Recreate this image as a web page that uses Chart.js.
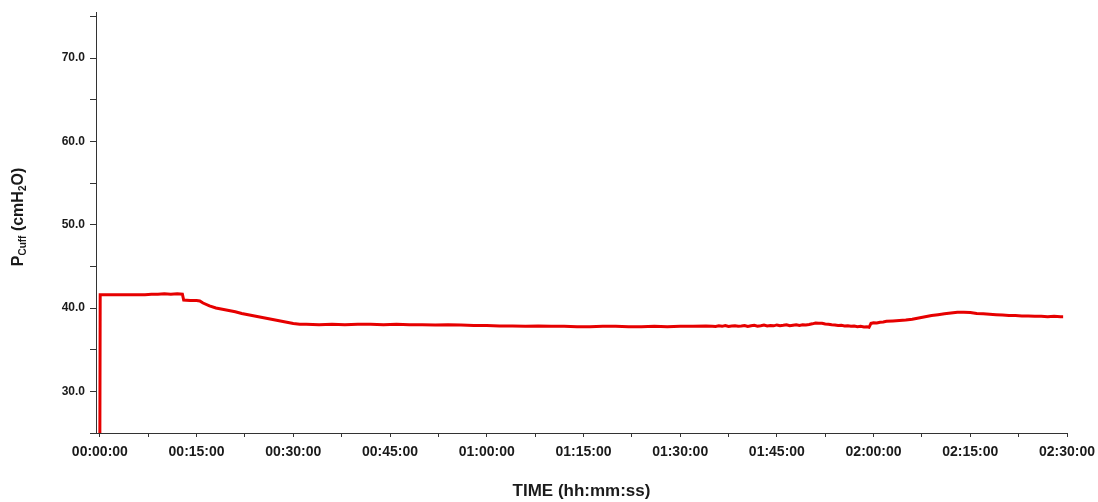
<!DOCTYPE html>
<html>
<head>
<meta charset="utf-8">
<script src="https://cdn.jsdelivr.net/npm/chart.js@4/dist/chart.umd.min.js"></script>
<style>
    body { margin: 0; background: #fff; }
    #wrap { width: 1098px; height: 502px; }
</style>
</head>
<body>
<div id="wrap"><canvas id="cuffChart"></canvas></div>
<script>
// time in minutes from start
const timeMin = [
    0, 0.05, 1, 2, 3, 4, 5, 6, 7, 8, 9, 10, 11, 12, 12.8, 13, 14, 15, 15.5,
    16, 17, 18, 19, 20, 21, 22, 23, 24, 25, 26, 27, 28, 29, 30, 31, 32,
    34, 36, 38, 40, 42, 44, 46, 48, 50, 52, 54, 56, 58, 60, 62, 64, 66, 68,
    70, 72, 74, 76, 78, 80, 82, 84, 86, 88, 90, 92, 94,
    95, 95.5, 96, 96.5, 97, 97.5, 98, 98.5, 99, 99.5, 100, 100.5, 101, 101.5,
    102, 102.5, 103, 103.5, 104, 104.5, 105, 105.5, 106, 106.5, 107, 107.5,
    108, 108.5, 109, 109.5, 110, 110.5, 111, 111.5, 112, 112.5, 113, 113.5,
    114, 114.5, 115, 115.5, 116, 116.5, 117, 117.5, 118, 118.5, 119, 119.3,
    119.6, 120, 120.5, 121, 121.5, 122,
    123, 124, 125, 126, 127, 128, 129, 130, 131, 132, 133, 134, 135, 136,
    137, 138, 139, 140, 141, 142, 143, 144, 145, 146, 147, 148, 149, 149.4
];

// cuff pressure, cmH2O
const pCuff = [
    25.0, 41.6, 41.6, 41.6, 41.6, 41.6, 41.6, 41.6, 41.6, 41.65, 41.65, 41.7, 41.65, 41.7, 41.65, 40.95, 40.9, 40.9, 40.85,
    40.6, 40.25, 40.0, 39.85, 39.7, 39.55, 39.35, 39.2, 39.05, 38.9, 38.75, 38.6, 38.45, 38.3, 38.15, 38.05, 38.05,
    38.0, 38.05, 38.0, 38.05, 38.05, 38.0, 38.05, 38.0, 38.0, 37.95, 38.0, 37.95, 37.9, 37.9, 37.85, 37.85, 37.8, 37.85,
    37.8, 37.8, 37.75, 37.75, 37.8, 37.8, 37.75, 37.75, 37.8, 37.75, 37.8, 37.8, 37.85,
    37.82, 37.78, 37.86, 37.8, 37.9, 37.79, 37.84, 37.88, 37.8, 37.83, 37.9, 37.78, 37.86, 37.92,
    37.82, 37.88, 37.95, 37.84, 37.9, 37.86, 37.97, 37.88, 37.92, 37.99, 37.87, 37.94,
    38.0, 37.9, 37.98, 37.95, 38.02, 38.1, 38.2, 38.16, 38.18, 38.08, 38.05, 37.98,
    37.97, 37.9, 37.92, 37.84, 37.88, 37.8, 37.83, 37.76, 37.8, 37.72, 37.74, 37.68,
    38.15, 38.22, 38.2, 38.3, 38.32, 38.4,
    38.45, 38.5, 38.55, 38.65, 38.8, 38.95, 39.1, 39.2, 39.3, 39.4, 39.5, 39.5, 39.45, 39.35,
    39.3, 39.25, 39.2, 39.15, 39.1, 39.1, 39.05, 39.05, 39.0, 39.0, 38.95, 39.0, 38.95, 38.95
];

const xTicks = [0, 7.5, 15, 22.5, 30, 37.5, 45, 52.5, 60, 67.5, 75, 82.5, 90, 97.5, 105, 112.5, 120, 127.5, 135, 142.5, 150];
const xTickLabels = ['00:00:00', '', '00:15:00', '', '00:30:00', '', '00:45:00', '', '01:00:00', '', '01:15:00', '',
    '01:30:00', '', '01:45:00', '', '02:00:00', '', '02:15:00', '', '02:30:00'];
const yTicks = [25, 30, 35, 40, 45, 50, 55, 60, 65, 70, 75];
const yTickLabels = ['', '30.0', '', '40.0', '', '50.0', '', '60.0', '', '70.0', ''];

const textColor = '#1a1a1a';
const axisColor = '#333';

// y title with subscripts: P_Cuff (cmH_2O)
const yTitlePlugin = {
    id: 'yTitle',
    afterDraw: function(chart) {
        const ctx = chart.ctx;
        const parts = [
            { t: 'P', size: 16, dy: 0 },
            { t: 'Cuff', size: 10, dy: 3 },
            { t: ' (cmH', size: 16, dy: 0 },
            { t: '2', size: 10, dy: 3 },
            { t: 'O)', size: 16, dy: 0 }
        ];
        let total = 0;
        parts.forEach(function(p) {
            ctx.font = 'bold ' + p.size + 'px "Liberation Sans", Arial, sans-serif';
            p.w = ctx.measureText(p.t).width;
            total += p.w;
        });
        ctx.save();
        ctx.translate(23, 217);
        ctx.rotate(-Math.PI / 2);
        ctx.fillStyle = textColor;
        ctx.textBaseline = 'alphabetic';
        ctx.textAlign = 'left';
        let x = -total / 2;
        parts.forEach(function(p) {
            ctx.font = 'bold ' + p.size + 'px "Liberation Sans", Arial, sans-serif';
            ctx.fillText(p.t, x, p.dy);
            x += p.w;
        });
        ctx.restore();
    }
};

const points = timeMin.map(function(t, i) {
    return { x: t, y: pCuff[i] };
});

const ctx = document.getElementById('cuffChart').getContext('2d');
const cuffChart = new Chart(ctx, {
    type: 'line',
    data: {
        datasets: [{
            label: 'Pcuff',
            data: points,
            borderColor: '#e60000',
            borderWidth: 3,
            pointRadius: 0,
            tension: 0,
            fill: false
        }]
    },
    options: {
        responsive: true,
        maintainAspectRatio: false,
        animation: false,
        layout: { padding: { left: 0, right: 31, top: 10, bottom: 0 } },
        plugins: {
            legend: { display: false },
            tooltip: { enabled: false }
        },
        scales: {
            x: {
                type: 'linear',
                min: -0.6,
                max: 150,
                afterBuildTicks: function(scale) {
                    scale.ticks = xTicks.map(function(v) { return { value: v }; });
                },
                afterFit: function(scale) {
                    scale.height = 69;
                    scale.paddingLeft = 0;
                    scale.paddingRight = 0;
                },
                grid: { drawOnChartArea: false, tickLength: 4, tickColor: axisColor },
                border: { display: true, color: axisColor, width: 1 },
                ticks: {
                    autoSkip: false,
                    maxRotation: 0,
                    padding: 7,
                    color: textColor,
                    font: { family: '"Liberation Sans", Arial, sans-serif', size: 14, weight: 'bold' },
                    callback: function(value, index) { return xTickLabels[index]; }
                },
                title: {
                    display: true,
                    text: 'TIME (hh:mm:ss)',
                    color: textColor,
                    padding: { top: 0, bottom: 0 },
                    font: { family: '"Liberation Sans", Arial, sans-serif', size: 17, weight: 'bold' }
                }
            },
            y: {
                min: 25,
                max: 75.5,
                afterBuildTicks: function(scale) {
                    scale.ticks = yTicks.map(function(v) { return { value: v }; });
                },
                afterFit: function(scale) { scale.width = 96; },
                grid: { drawOnChartArea: false, tickLength: 6, tickColor: axisColor },
                border: { display: true, color: axisColor, width: 1 },
                ticks: {
                    autoSkip: false,
                    padding: 5,
                    color: textColor,
                    font: { family: '"Liberation Sans", Arial, sans-serif', size: 12, weight: 'bold' },
                    callback: function(value, index) { return yTickLabels[index]; }
                }
            }
        }
    },
    plugins: [yTitlePlugin]
});
</script>
</body>
</html>
